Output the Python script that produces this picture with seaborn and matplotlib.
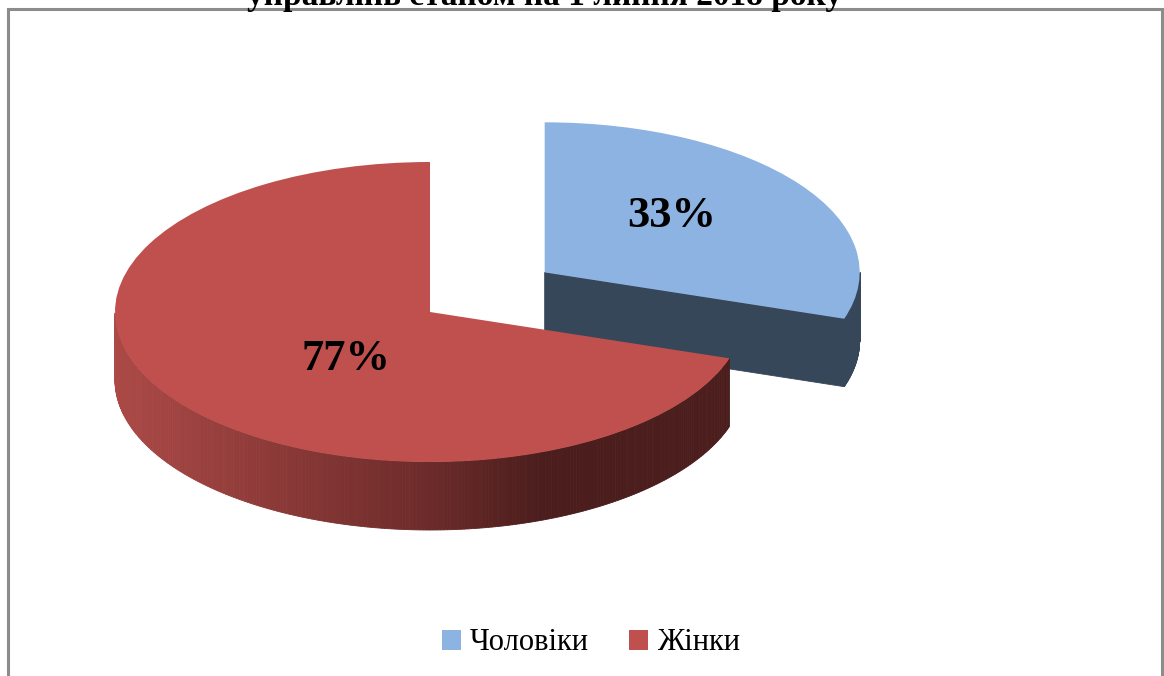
import numpy as np
import matplotlib
matplotlib.use('Agg')
import matplotlib.pyplot as plt
import seaborn as sns
from matplotlib.patches import Polygon, Rectangle
from matplotlib.colors import to_rgb

# ---- data ----
categories = ['Чоловіки', 'Жінки']
values = [33, 77]
title_line = 'управлінь станом на 1 липня 2018 року'

# ---- style ----
sns.set_theme(style='white')
plt.rcParams['font.family'] = ['Liberation Serif', 'DejaVu Serif']
plt.rcParams['text.color'] = 'black'

top_colors = ['#8DB3E2', '#C0504D']
blue_side = '#37475A'
explode = [0.45, 0.0]

W, H = 1164, 676
fig = plt.figure(figsize=(W / 100, H / 100), dpi=100)
ax = fig.add_axes([0, 0, 1, 1])

# pixel geometry of the (squashed) pie
cx, cy, A, B = 430, 312, 315, 150
depth = 68 / B

total = sum(values)
wedges, texts, autotexts = ax.pie(
    values, colors=top_colors, startangle=90, counterclock=False,
    explode=explode, autopct=lambda p: f'{p * total / 100:.0f}%',
    pctdistance=0.5, wedgeprops=dict(linewidth=0),
    textprops=dict(fontsize=32, fontweight='bold', color='black'))

ax.set_aspect('auto')
ax.set_xlim((0 - cx) / A, (W - cx) / A)
ax.set_ylim((cy - H) / B, cy / B)
ax.axis('off')


def red_side_color(xn):
    light = np.array(to_rgb('#AC4946'))
    mid = np.array(to_rgb('#6C2B2A'))
    dark = np.array(to_rgb('#4B1E1D'))
    if xn <= 0:
        t = (xn + 1)
        return tuple(light + (mid - light) * t)
    t = min(xn / 0.35, 1.0)
    return tuple(mid + (dark - mid) * t)


def draw_sides(w, z, colfun):
    (x0, y0), r = w.center, w.r
    t1, t2 = w.theta1, w.theta2
    ts = np.linspace(t1, t2, 400)
    for a, b in zip(ts[:-1], ts[1:]):
        m = np.deg2rad((a + b) / 2)
        if np.sin(m) >= 0:
            continue
        ra, rb = np.deg2rad(a), np.deg2rad(b)
        pts = [(x0 + r * np.cos(ra), y0 + r * np.sin(ra)),
               (x0 + r * np.cos(rb), y0 + r * np.sin(rb)),
               (x0 + r * np.cos(rb), y0 + r * np.sin(rb) - depth),
               (x0 + r * np.cos(ra), y0 + r * np.sin(ra) - depth)]
        c = colfun(np.cos(m))
        ax.add_patch(Polygon(pts, closed=True, facecolor=c, edgecolor=c,
                             linewidth=0.6, zorder=z))
    for phi, normal in ((t1, t1 - 90), (t2, t2 + 90)):
        if np.sin(np.deg2rad(normal)) < -1e-6:
            p = np.deg2rad(phi)
            ex, ey = x0 + r * np.cos(p), y0 + r * np.sin(p)
            pts = [(x0, y0), (ex, ey), (ex, ey - depth), (x0, y0 - depth)]
            c = colfun(0.6)
            ax.add_patch(Polygon(pts, closed=True, facecolor=c, edgecolor=c,
                                 linewidth=0.6, zorder=z))


draw_sides(wedges[0], 1, lambda xn: blue_side)
wedges[0].set_zorder(2)
draw_sides(wedges[1], 3, red_side_color)
wedges[1].set_zorder(4)

# label placement relative to each wedge centre
label_scale = [1.0, 0.66]
label_dy = [0.08, -0.12]
for w, t, f, dy in zip(wedges, autotexts, label_scale, label_dy):
    (x0, y0) = w.center
    tx, ty = t.get_position()
    t.set_position((x0 + (tx - x0) * f, y0 + (ty - y0) * f + dy))
    t.set_zorder(6)

# legend
handles = [Rectangle((0, 0), 1, 1, facecolor=c, edgecolor='none') for c in top_colors]
fig.legend(handles, categories, loc='center', bbox_to_anchor=(591 / W, 1 - 643 / H),
           ncol=2, frameon=False, fontsize=22, handlelength=0.62, handleheight=0.62,
           handletextpad=0.3, columnspacing=1.3, labelcolor='black')

# title (partially cut off at the top, as in the source)
fig.text(545 / W, 1 - 5 / H, title_line, ha='center', va='baseline',
         fontsize=24, fontweight='bold', color='black')

# outer frame
fig.add_artist(Rectangle((8 / W, -0.05), (1162 - 8) / W, (H - 9) / H + 0.05,
                         transform=fig.transFigure, fill=False,
                         edgecolor='#8C8C8C', linewidth=2.2))

fig.savefig('out.png', dpi=100)
